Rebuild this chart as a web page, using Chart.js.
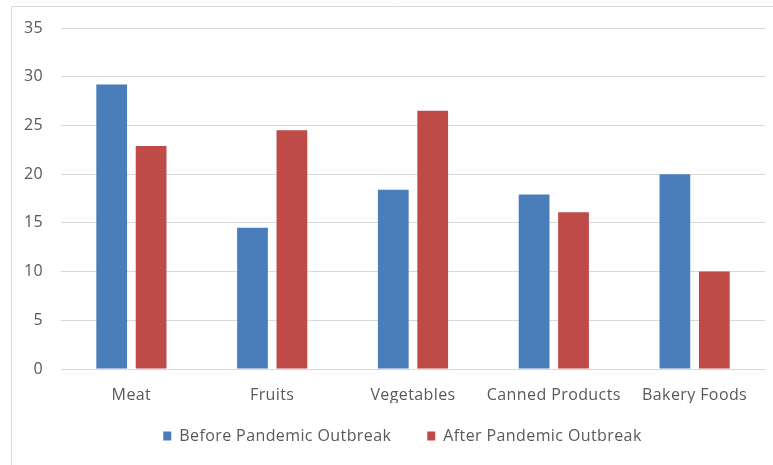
<!DOCTYPE html>
<html>
<head>
<meta charset="utf-8">
<script src="https://cdn.jsdelivr.net/npm/chart.js@4/dist/chart.umd.min.js"></script>
<style>
  html, body { margin: 0; padding: 0; background: #fff; }
  #wrap { width: 773px; height: 465px; position: relative; }
</style>
</head>
<body>
<div id="wrap"><canvas id="c" width="773" height="465"></canvas></div>
<script>
// Share of purchases by food category, before and after the outbreak
const categories = ["Meat", "Fruits", "Vegetables", "Canned Products", "Bakery Foods"];
const beforeOutbreak = [29.2, 14.5, 18.4, 17.9, 20.0];
const afterOutbreak = [22.9, 24.5, 26.5, 16.1, 10.0];
const seriesNames = ["Before Pandemic Outbreak", "After Pandemic Outbreak"];
const yTicks = [0, 5, 10, 15, 20, 25, 30, 35];

const textColor = "#595959";
const gridColor = "#d9d9d9";
const fontFamily = "'Open Sans', 'DejaVu Sans', sans-serif";
const textSpacing = "0.4px";

// light frame around the chart (left and top edges)
const framePlugin = {
  id: "frame",
  beforeDraw(chart) {
    const ctx = chart.ctx;
    ctx.save();
    ctx.strokeStyle = "#d9d9d9";
    ctx.lineWidth = 1;
    ctx.beginPath();
    ctx.moveTo(11.5, 465);
    ctx.lineTo(11.5, 6.5);
    ctx.lineTo(773, 6.5);
    ctx.stroke();
    ctx.restore();
  }
};

// slightly open letter spacing for all chart text (measured and drawn alike)
const spacingPlugin = {
  id: "spacing",
  beforeLayout(chart) { chart.ctx.letterSpacing = textSpacing; },
  beforeDraw(chart) { chart.ctx.letterSpacing = textSpacing; }
};

// nudge the legend box: a little up and right of its default slot
const legendShift = { dx: 20, dy: -11 };
const legendNudgePlugin = {
  id: "legendNudge",
  afterLayout(chart) {
    const lg = chart.legend;
    if (!lg) return;
    lg.left += legendShift.dx;
    lg.right += legendShift.dx;
    lg.top += legendShift.dy;
    lg.bottom += legendShift.dy;
  }
};

new Chart(document.getElementById("c"), {
  type: "bar",
  data: {
    labels: categories,
    datasets: [
      { label: seriesNames[0], data: beforeOutbreak, backgroundColor: "#4a7ebb" },
      { label: seriesNames[1], data: afterOutbreak, backgroundColor: "#be4b48" }
    ]
  },
  options: {
    responsive: false,
    animation: false,
    devicePixelRatio: 1,
    categoryPercentage: 0.56,
    barPercentage: 0.78,
    layout: { padding: { left: 0, right: 8, top: 28, bottom: 0 } },
    plugins: {
      tooltip: { enabled: false },
      legend: {
        position: "bottom",
        align: "center",
        labels: {
          boxWidth: 8,
          boxHeight: 9,
          padding: 36,
          color: textColor,
          font: { family: fontFamily, size: 16, lineHeight: 0.875 }
        }
      }
    },
    scales: {
      x: {
        grid: { display: false, drawTicks: false },
        border: { display: true, color: gridColor },
        ticks: {
          color: textColor,
          padding: 17,
          maxRotation: 0,
          autoSkip: false,
          font: { family: fontFamily, size: 16 }
        },
        afterFit(scale) { scale.height = 34; }
      },
      y: {
        min: 0,
        max: 35,
        afterBuildTicks(scale) { scale.ticks = yTicks.map(v => ({ value: v })); },
        grid: { color: gridColor, drawTicks: false },
        border: { display: false },
        ticks: {
          color: textColor,
          padding: 18,
          font: { family: fontFamily, size: 16 }
        },
        afterFit(scale) { scale.width = 61; }
      }
    }
  },
  plugins: [framePlugin, spacingPlugin, legendNudgePlugin]
});
</script>
</body>
</html>
